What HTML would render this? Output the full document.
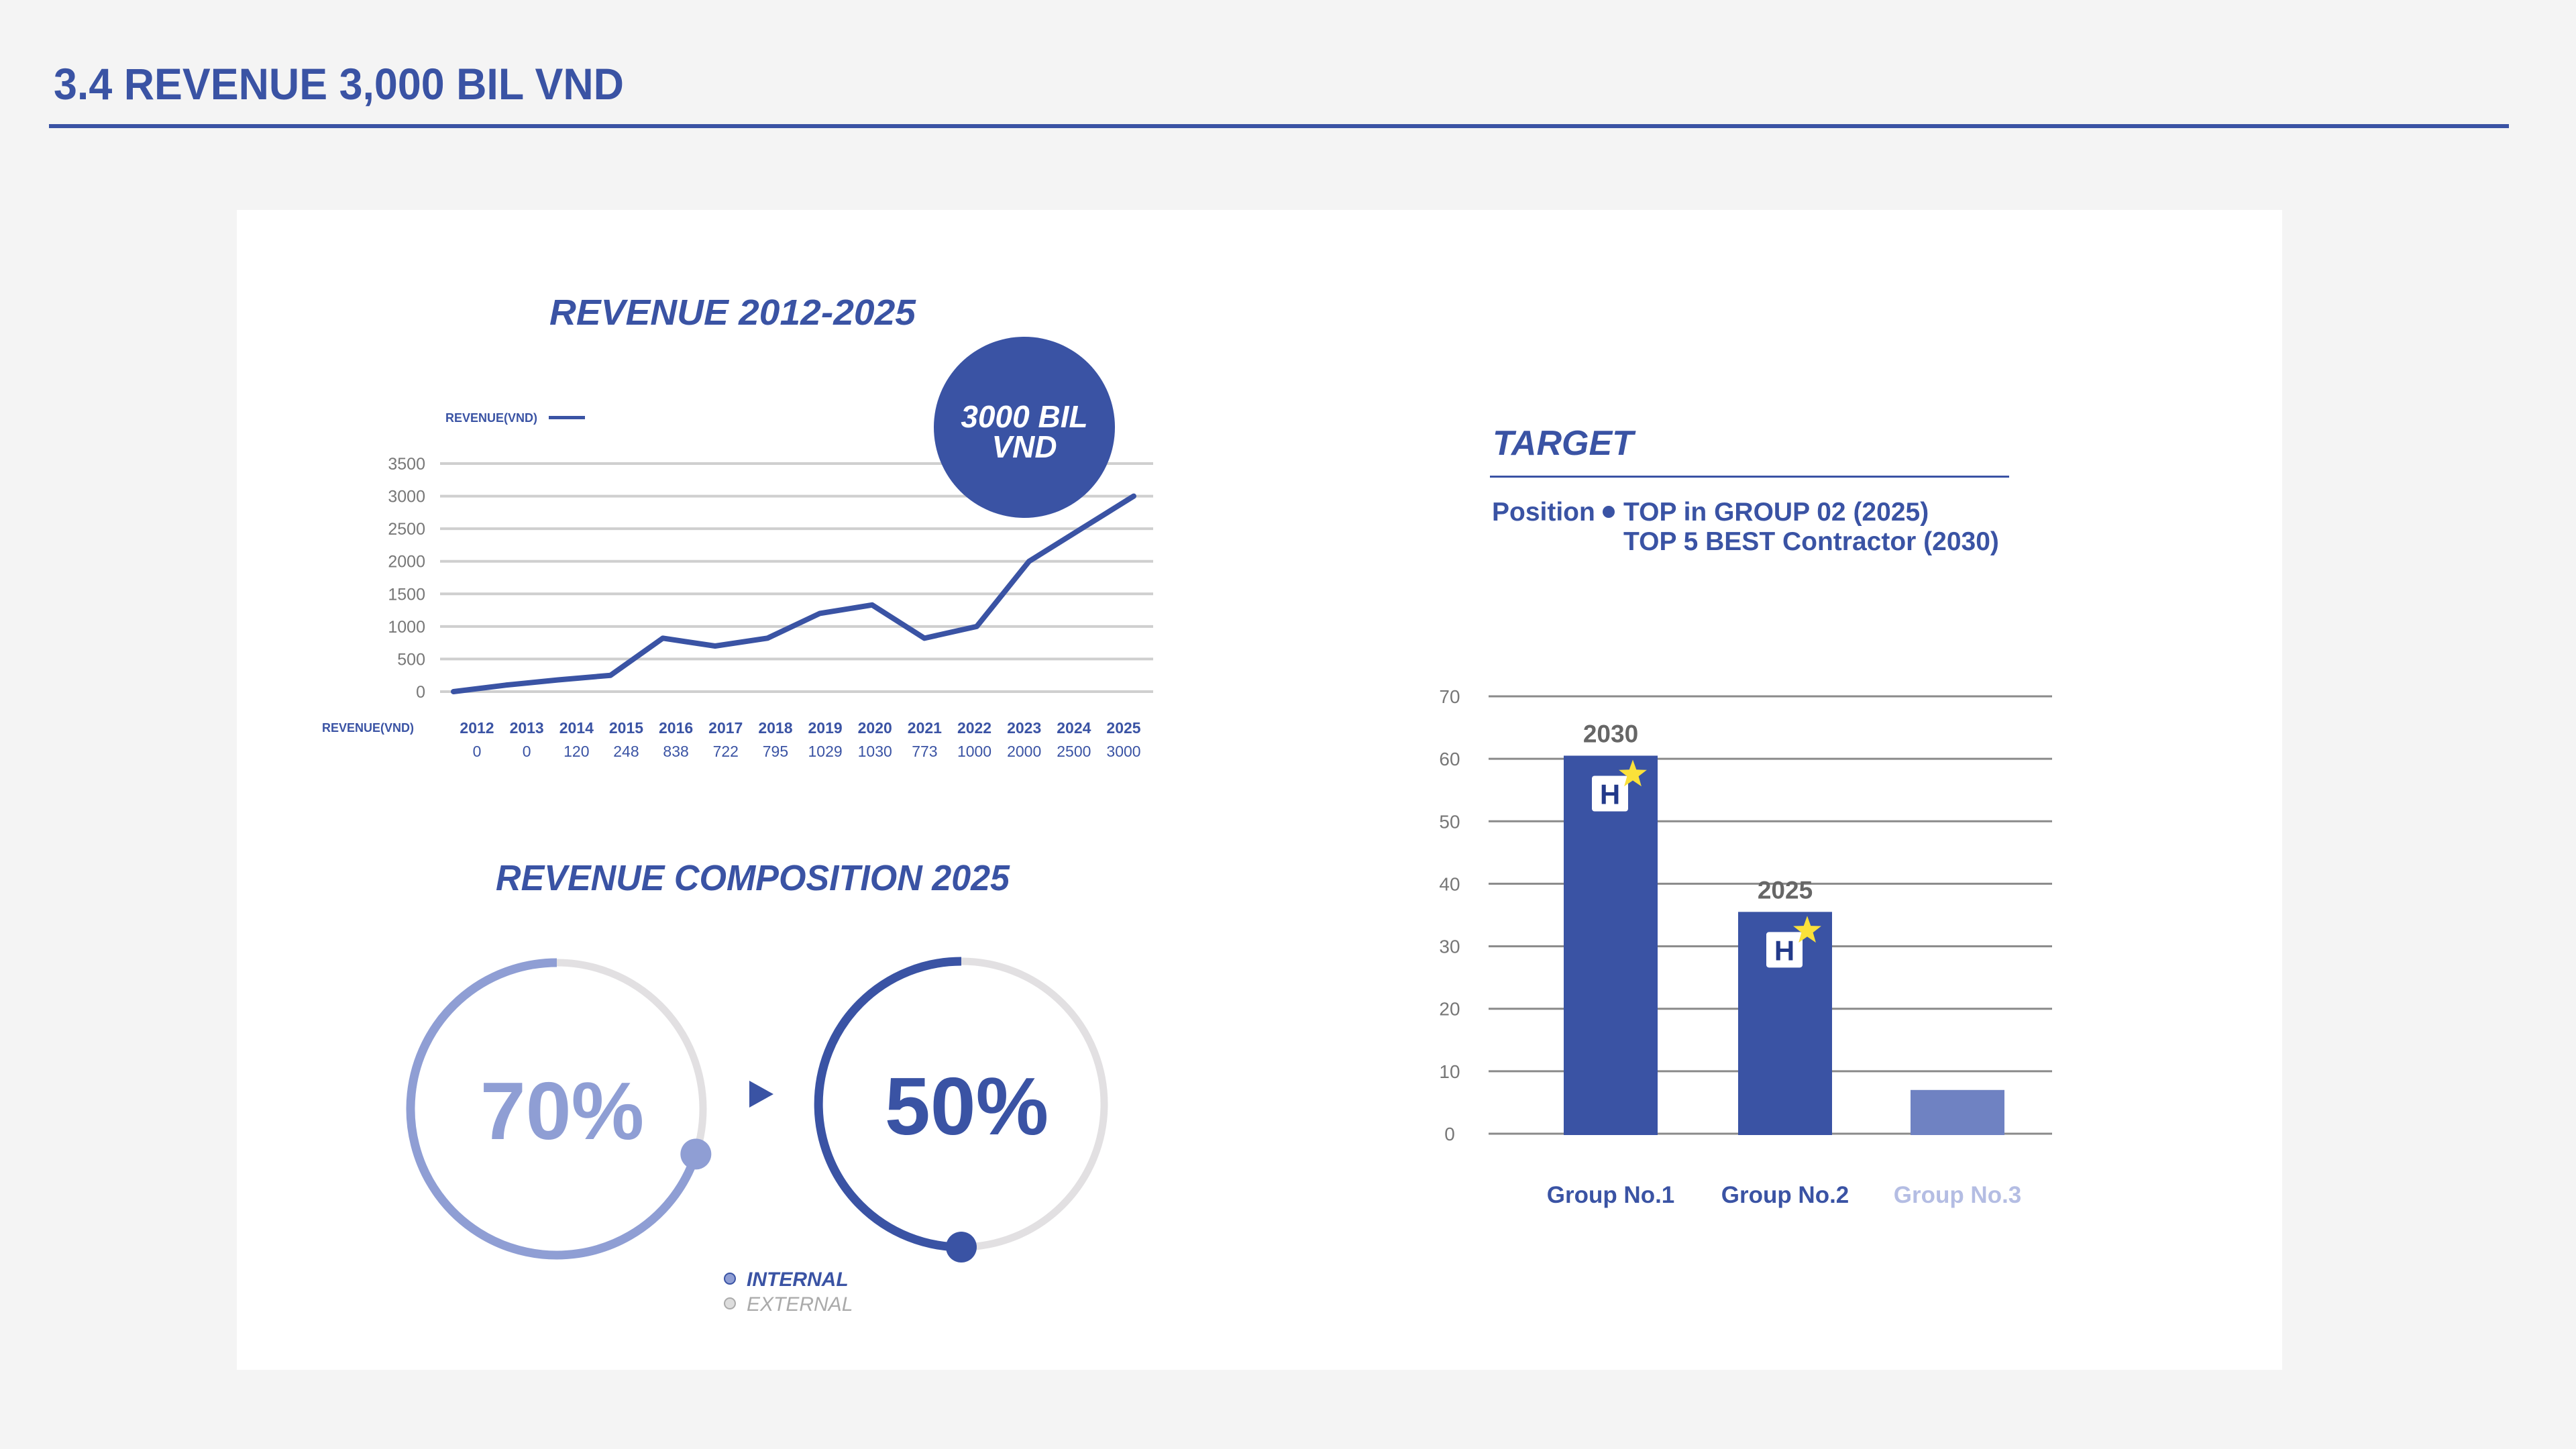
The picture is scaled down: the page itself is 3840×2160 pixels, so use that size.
<!DOCTYPE html>
<html><head><meta charset="utf-8"><style>
html,body{margin:0;padding:0;background:#f4f4f4;}
svg{display:block;font-family:"Liberation Sans",sans-serif;}
</style></head><body>
<svg id="s" width="3840" height="2160" viewBox="0 0 3840 2160" xmlns="http://www.w3.org/2000/svg">
<rect x="0" y="0" width="3840" height="2160" fill="#f4f4f4"/>
<text x="80" y="148" font-size="66" font-weight="bold" fill="#3a53a4" textLength="850" lengthAdjust="spacingAndGlyphs">3.4 REVENUE 3,000 BIL VND</text>
<rect x="73" y="185" width="3667" height="6" fill="#3a53a4"/>
<rect x="353" y="313" width="3049" height="1729" fill="#ffffff"/>

<g id="line-chart">
<text x="1092" y="484" text-anchor="middle" font-size="54" font-weight="bold" font-style="italic" fill="#3a53a4" textLength="546" lengthAdjust="spacingAndGlyphs">REVENUE 2012-2025</text>
<text x="664" y="629" font-size="18" font-weight="bold" fill="#3a53a4">REVENUE(VND)</text>
<rect x="818" y="620" width="54" height="5" fill="#3a53a4"/>
<g id="lc-grid"></g>
<g id="lc-marks"></g>
<circle cx="1527" cy="637" r="135" fill="#3a53a4"/>
<text x="1527" y="637" text-anchor="middle" font-size="46" font-weight="bold" font-style="italic" fill="#fff">3000 BIL</text>
<text x="1527" y="682" text-anchor="middle" font-size="46" font-weight="bold" font-style="italic" fill="#fff">VND</text>
<text x="480" y="1091" font-size="18" font-weight="bold" fill="#3a53a4">REVENUE(VND)</text>
<g id="lc-table"></g>
</g>

<g id="comp">
<text x="1122" y="1327" text-anchor="middle" font-size="54" font-weight="bold" font-style="italic" fill="#3a53a4" textLength="766" lengthAdjust="spacingAndGlyphs">REVENUE COMPOSITION 2025</text>
<g id="donuts"></g>
<path d="M1117 1611 L1153 1631 L1117 1651 Z" fill="#3a53a4"/>
<circle cx="1088" cy="1906" r="8" fill="#8f9ed4" stroke="#3a53a4" stroke-width="2"/>
<text x="1113" y="1917" font-size="30" font-weight="bold" font-style="italic" fill="#3a53a4">INTERNAL</text>
<circle cx="1088" cy="1943" r="8" fill="#dddddd" stroke="#aaaaaa" stroke-width="2"/>
<text x="1113" y="1954" font-size="30" font-style="italic" fill="#aaaaaa">EXTERNAL</text>
</g>

<g id="target">
<text x="2225" y="678" font-size="52" font-weight="bold" font-style="italic" fill="#3a53a4">TARGET</text>
<rect x="2221" y="709" width="774" height="3" fill="#3a53a4"/>
<text x="2224" y="776" font-size="39" font-weight="bold" fill="#3a53a4">Position</text>
<circle cx="2398" cy="763" r="9" fill="#3a53a4"/>
<text x="2420" y="776" font-size="39" font-weight="bold" fill="#3a53a4">TOP in GROUP 02 (2025)</text>
<text x="2420" y="820" font-size="39" font-weight="bold" fill="#3a53a4">TOP 5 BEST Contractor (2030)</text>
<g id="bc"></g>
</g>
</svg>
<script>
// ---- line chart data ----
const years = ["2012","2013","2014","2015","2016","2017","2018","2019","2020","2021","2022","2023","2024","2025"];
const plotted = [0,100,180,250,820,700,820,1200,1330,820,1000,2000,2500,3000];
const printed = ["0","0","120","248","838","722","795","1029","1030","773","1000","2000","2500","3000"];
const yTicks = [0,500,1000,1500,2000,2500,3000,3500];
// ---- composition data ----
const compLabels = ["before","2025"];
const compValues = [70,50];
// ---- bar chart data ----
const groups = ["Group No.1","Group No.2","Group No.3"];
const barValues = [60.5,35.5,7];
const barYears = ["2030","2025",""];
const barTicks = [0,10,20,30,40,50,60,70];

const NS="http://www.w3.org/2000/svg";
function mk(tag,attrs,parent){const e=document.createElementNS(NS,tag);for(const k in attrs)e.setAttribute(k,attrs[k]);parent.appendChild(e);return e;}

// line chart
const ly=v=>1031-(v/3500)*340;
const lx=i=>676+i*(1690-676)/(years.length-1);
const tx=i=>711+i*(1675-711)/(years.length-1);
const grid=document.getElementById('lc-grid');
yTicks.forEach(t=>{
  const l=mk('line',{x1:656,x2:1719,y1:ly(t),y2:ly(t),stroke:'#cfcfcf','stroke-width':4},grid);
  
  
  const tt=mk('text',{x:634,y:ly(t)+9,'text-anchor':'end','font-size':25,fill:'#777'},grid);
  tt.textContent=t;
  
  
});
const marks=document.getElementById('lc-marks');
const pl=mk('polyline',{points:plotted.map((v,i)=>lx(i)+','+ly(v)).join(' '),fill:'none',stroke:'#3a53a4','stroke-width':8,'stroke-linejoin':'round','stroke-linecap':'round'},marks);


const tbl=document.getElementById('lc-table');
years.forEach((y,i)=>{
  const a=mk('text',{x:tx(i),y:1093,'text-anchor':'middle','font-size':23,'font-weight':'bold',fill:'#3a53a4'},tbl);
  a.textContent=y;
  
  
  const b=mk('text',{x:tx(i),y:1128,'text-anchor':'middle','font-size':23,fill:'#3a53a4'},tbl);
  b.textContent=printed[i];
  
  
});

// donuts
const dn=document.getElementById('donuts');
const dcfg=[{cx:830,cy:1653,r:218,col:'#8f9ed4'},{cx:1433,cy:1646,r:213,col:'#3a53a4'}];
compValues.forEach((v,i)=>{
  const c=dcfg[i];
  const bg=mk('circle',{cx:c.cx,cy:c.cy,r:c.r,fill:'none',stroke:'#e2e0e2','stroke-width':11},dn);
  
  
  const ang=-(v/100)*2*Math.PI; // counter-clockwise from top
  const ex=c.cx+c.r*Math.sin(ang), ey=c.cy-c.r*Math.cos(ang);
  const large=v>50?1:0;
  const p=mk('path',{d:`M${c.cx} ${c.cy-c.r} A${c.r} ${c.r} 0 ${large} 0 ${ex} ${ey}`,fill:'none',stroke:c.col,'stroke-width':13},dn);
  
  
  const k=mk('circle',{cx:ex,cy:ey,r:23,fill:c.col},dn);
  
  
  const t=mk('text',{x:c.cx+8,y:c.cy+45,'text-anchor':'middle','font-size':122,'font-weight':'bold',fill:c.col},dn);
  t.textContent=v+'%';
  
  
});

// bar chart
const bc=document.getElementById('bc');
const by=v=>1690-(v/70)*652;
const bx=[2331,2591,2848], bw=140;
barTicks.forEach(t=>{
  const l=mk('line',{x1:2219,x2:3059,y1:by(t),y2:by(t),stroke:'#8a8a8a','stroke-width':3},bc);
  
  
  const tt=mk('text',{x:2161,y:by(t)+10,'text-anchor':'middle','font-size':28,fill:'#777'},bc);
  tt.textContent=t;
  
  
});
const gcol=['#3a53a4','#3a53a4','#6f82c2'], lcol=['#3a53a4','#3a53a4','#b4bde3'];
groups.forEach((g,i)=>{
  const top=by(barValues[i]);
  const r=mk('rect',{x:bx[i],y:top,width:bw,height:1692-top,fill:gcol[i]},bc);
  
  
  const gl=mk('text',{x:bx[i]+bw/2,y:1793,'text-anchor':'middle','font-size':35,'font-weight':'bold',fill:lcol[i]},bc);
  gl.textContent=g;
  
  
  if(barYears[i]){
    const yl=mk('text',{x:bx[i]+bw/2,y:top-20,'text-anchor':'middle','font-size':37,'font-weight':'bold',fill:'#666'},bc);
    yl.textContent=barYears[i];
    
    
    const ix=bx[i]+42, iy=top+30;
    const box=mk('rect',{x:ix,y:iy,width:54,height:53,rx:4,fill:'#fff'},bc);
    
    
    const h=mk('text',{x:ix+27,y:iy+42,'text-anchor':'middle','font-size':42,'font-weight':'bold',fill:'#233a8a'},bc);
    h.textContent='H';
    
    
    const scx=ix+61, scy=iy-2, R=22, rr=9; let pts=[];
    for(let k=0;k<10;k++){const a=-Math.PI/2+k*Math.PI/5;const rad=k%2?rr:R;pts.push((scx+rad*Math.cos(a)).toFixed(1)+','+(scy+rad*Math.sin(a)).toFixed(1));}
    const st=mk('polygon',{points:pts.join(' '),fill:'#fbe13a'},bc);
    
    
  }
});
</script>
</body></html>
